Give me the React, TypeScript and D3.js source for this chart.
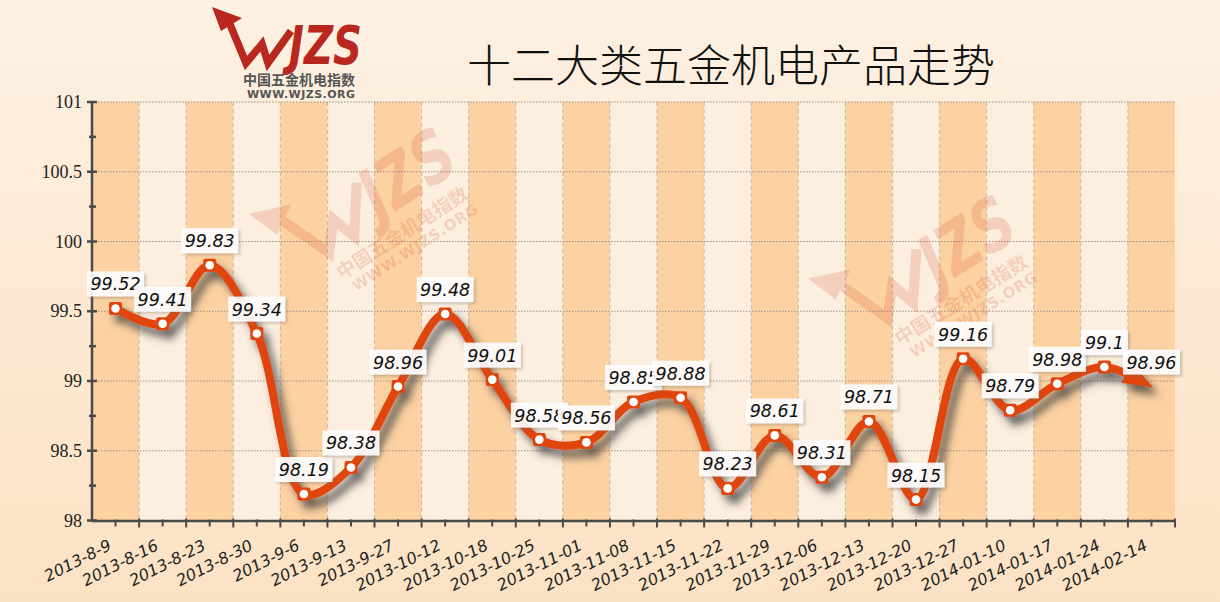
import React, { useEffect, useRef, useState } from 'react';
import * as d3 from 'd3';

const categories = ['2013-8-9', '2013-8-16', '2013-8-23', '2013-8-30', '2013-9-6', '2013-9-13', '2013-9-27', '2013-10-12', '2013-10-18', '2013-10-25', '2013-11-01', '2013-11-08', '2013-11-15', '2013-11-22', '2013-11-29', '2013-12-06', '2013-12-13', '2013-12-20', '2013-12-27', '2014-01-10', '2014-01-17', '2014-01-24', '2014-02-14'];
const values = [99.52, 99.41, 99.83, 99.34, 98.19, 98.38, 98.96, 99.48, 99.01, 98.58, 98.56, 98.85, 98.88, 98.23, 98.61, 98.31, 98.71, 98.15, 99.16, 98.79, 98.98, 99.1, 98.96];
const yTicks = [98, 98.5, 99, 99.5, 100, 100.5, 101];
const yMinorTicks = [98.25, 98.75, 99.25, 99.75, 100.25, 100.75];
const title = '十二大类五金机电产品走势';

const W = 1220, H = 602;
const left = 92, right = 1175, top = 102, bottom = 520.5;
const lineColor = '#df4510';

const Logo = (props: { color: string, textColor: string }) => (
	<g>
		<polygon points="212,7 242,18 221,31" fill={props.color} />
		<polyline points="229,22 246,63 262,44 268,63 291,31" fill="none" stroke={props.color} strokeWidth={7.5} strokeLinejoin="miter" />
		<text transform="translate(289,64) scale(1,1.25)" fontSize={42} fontWeight={900} fontStyle="italic" textLength={73} lengthAdjust="spacingAndGlyphs" fill={props.color} fontFamily="DejaVu Sans">JZS</text>
		<text x={243} y={85} fontSize={14} fontWeight={700} fill={props.textColor} fontFamily="Noto Sans CJK SC" textLength={112} lengthAdjust="spacingAndGlyphs">中国五金机电指数</text>
		<text x={247} y={98} fontSize={11} fontWeight={700} fill={props.textColor} fontFamily="DejaVu Sans" textLength={108} lengthAdjust="spacing">WWW.WJZS.ORG</text>
	</g>
);

export default function App() {
	const pathRef = useRef<SVGPathElement>(null);
	const [arrow, setArrow] = useState<{ x: number, y: number, a: number, len: number } | null>(null);

	const x = d3.scaleBand().domain(categories).range([left, right]);
	const y = d3.scaleLinear().domain([98, 101]).range([bottom, top]);
	const cx = (i: number) => (x(categories[i]) as number) + x.bandwidth() / 2;
	const pts: [number, number][] = values.map((v, i) => [cx(i), y(v)]);
	const line = d3.line().curve(d3.curveCatmullRom.alpha(0.5));
	const d = line(pts) || '';

	useEffect(() => {
		const p = pathRef.current;
		if (!p) return;
		const len = p.getTotalLength();
		const end = p.getPointAtLength(len);
		const back = p.getPointAtLength(len - 20);
		const a = Math.atan2(end.y - back.y, end.x - back.x) * 180 / Math.PI;
		setArrow({ x: end.x, y: end.y, a, len });
	}, [d]);

	const bw = x.bandwidth();

	return (
		<svg width={W} height={H} style={{ position: 'absolute', left: 0, top: 0 }}>
			<defs>
				<linearGradient id="bg" x1="0" y1="0" x2="0" y2="1">
					<stop offset="0" stopColor="#fdf1e3" />
					<stop offset="1" stopColor="#fce2c4" />
				</linearGradient>
				<filter id="shadow" x="-10%" y="-20%" width="130%" height="150%">
					<feDropShadow dx={6} dy={8} stdDeviation={4.5} floodColor="#404040" floodOpacity={0.8} />
				</filter>
				<filter id="boxShadow" x="-20%" y="-30%" width="150%" height="170%">
					<feDropShadow dx={2} dy={2} stdDeviation={1.5} floodColor="#7a6a5a" floodOpacity={0.4} />
				</filter>
			</defs>
			<rect x={0} y={0} width={W} height={H} fill="url(#bg)" />

			{/* alternating column bands */}
			{categories.map((c, i) => (
				<rect key={c} x={x(c)} y={top} width={bw} height={bottom - top} fill={i % 2 === 0 ? '#fdd2a2' : '#fdefdf'} />
			))}
			{categories.map((c, i) => i > 0 ? (
				<line key={c} x1={x(c)} x2={x(c)} y1={top} y2={bottom} stroke="#c9b6a2" strokeWidth={1} strokeDasharray="4,3" />
			) : null)}
			{yTicks.map(t => t > 98 ? (
				<line key={t} x1={left} x2={right} y1={y(t)} y2={y(t)} stroke="#9a8f86" strokeWidth={1} strokeDasharray="1.5,1.5" />
			) : null)}

			{/* watermarks */}
			<g opacity={0.18} transform="translate(342,280) rotate(-33) scale(1.36) translate(-243,-85)">
				<Logo color="#d2462a" textColor="#d2462a" />
			</g>
			<g opacity={0.18} transform="translate(900,346) rotate(-32) scale(1.36) translate(-243,-85)">
				<Logo color="#d2462a" textColor="#d2462a" />
			</g>

			{/* logo + title */}
			<Logo color="#b8281f" textColor="#555" />
			<text x={731} y={82} textAnchor="middle" fontSize={44} fontWeight={300} fontFamily="Noto Sans CJK SC" fill="#111">{title}</text>

			{/* y axis */}
			<line x1={left} x2={left} y1={top} y2={bottom + 1} stroke="#4a4a4a" strokeWidth={2.5} />
			{yTicks.map(t => (
				<g key={t}>
					<line x1={left - 5} x2={left + 5} y1={y(t)} y2={y(t)} stroke="#4a4a4a" strokeWidth={2.5} />
					<text x={82} y={y(t) + 6} textAnchor="end" fontSize={18} fontFamily="Liberation Serif" fill="#222">{t}</text>
				</g>
			))}
			{yMinorTicks.map(t => (
				<line key={t} x1={left - 3} x2={left + 4} y1={y(t)} y2={y(t)} stroke="#4a4a4a" strokeWidth={2.5} />
			))}

			{/* x axis */}
			<line x1={left} x2={right} y1={bottom + 0.5} y2={bottom + 0.5} stroke="#4a4a4a" strokeWidth={2.5} />
			{categories.map((c, i) => (
				<g key={c}>
					<line x1={(x(c) as number) + bw} x2={(x(c) as number) + bw} y1={bottom - 2} y2={bottom + 7} stroke="#4a4a4a" strokeWidth={2} />
					<line x1={cx(i)} x2={cx(i)} y1={bottom - 1} y2={bottom + 6} stroke="#4a4a4a" strokeWidth={2} />
					<text transform={`translate(${cx(i) - 3},549) rotate(-27)`} textAnchor="end" fontSize={16} fontStyle="italic" fontFamily="DejaVu Sans" fill="#222">{c}</text>
				</g>
			))}

			{/* series */}
			<g filter="url(#shadow)">
				<path ref={pathRef} d={d} fill="none" stroke={lineColor} strokeWidth={8}
					strokeDasharray={arrow ? `${arrow.len - 22} 99999` : undefined} />
				{arrow && (
					<polygon points="2,0 -28,-11 -28,11" fill={lineColor}
						transform={`translate(${arrow.x},${arrow.y}) rotate(${arrow.a})`} />
				)}
				{pts.slice(0, -1).map((p, i) => (
					<g key={i}>
						<rect x={p[0] - 6.5} y={p[1] - 6.5} width={13} height={13} rx={2} fill={lineColor} />
						<circle cx={p[0]} cy={p[1]} r={4.3} fill="#fff" />
					</g>
				))}
			</g>

			{/* value labels */}
			{pts.map((p, i) => {
				const s = String(values[i]);
				const w = s.length * 10 + 7;
				return (
					<g key={i}>
						<rect x={p[0] - w / 2} y={p[1] - 37} width={w} height={25} fill="#fff" fillOpacity={0.9} filter="url(#boxShadow)" />
						<text x={p[0]} y={p[1] - 18} textAnchor="middle" fontSize={17.5} fontStyle="italic" fontFamily="DejaVu Sans" fill="#111">{s}</text>
					</g>
				);
			})}
		</svg>
	);
}
